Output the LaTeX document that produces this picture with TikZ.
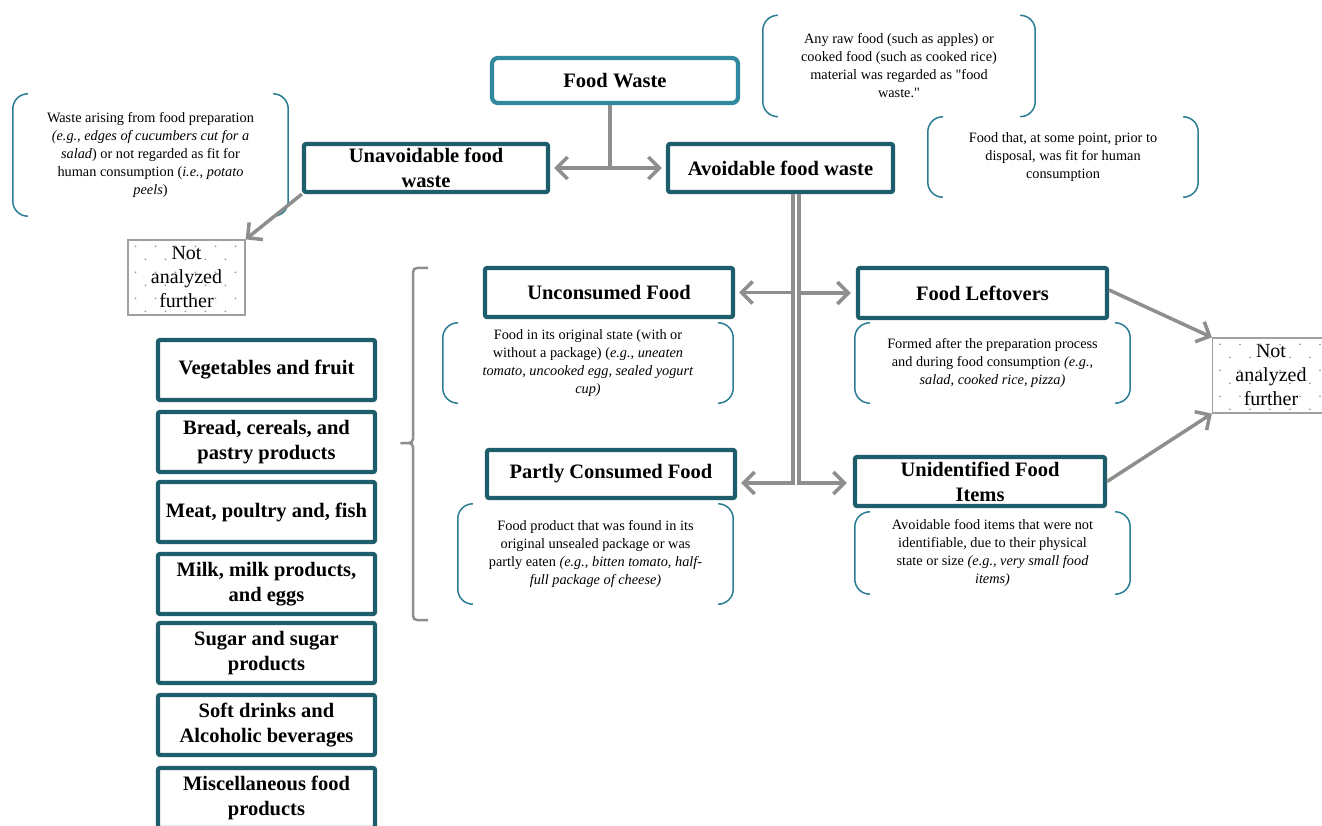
\documentclass[tikz,border=0pt]{standalone}
\usepackage{fontspec}
\setmainfont{Liberation Serif}[Ligatures=TeXOff]
\usetikzlibrary{arrows.meta}
\definecolor{darkteal}{HTML}{1E5D6C}
\definecolor{lightteal}{HTML}{3189A0}
\definecolor{brteal}{HTML}{2C7D94}
\definecolor{conngray}{HTML}{8E8E8E}
\definecolor{dotgray}{HTML}{A0A0A0}
\tikzset{
  box/.style={draw=darkteal, line width=4.2pt, rounded corners=2pt, align=center, inner sep=0pt,
    font=\fontsize{20.5}{25}\selectfont\bfseries},
  topbox/.style={box, draw=lightteal, rounded corners=6pt},
  catbox/.style={box, minimum width=217pt, minimum height=60pt},
  note/.style={align=center, inner sep=0pt, font=\fontsize{14.3}{18}\selectfont},
  notebr/.style={draw=brteal, line width=1.5pt, rounded corners=15pt},
  nabox/.style={draw=dotgray, line width=1.2pt, align=center, inner sep=0pt,
    minimum width=117pt, minimum height=75pt, font=\fontsize{20}{24}\selectfont},
  conn/.style={draw=conngray, line width=3.5pt},
  arr/.style={conn, -{Straight Barb[length=11pt,width=22pt]}},
  bracegray/.style={draw=conngray, line width=2.5pt, rounded corners=4pt}
}
\newcommand\notebrackets[1]{%
  \draw[notebr] ([xshift=15pt]#1.north west) -- (#1.north west) -- (#1.south west) -- ([xshift=15pt]#1.south west);
  \draw[notebr] ([xshift=-15pt]#1.north east) -- (#1.north east) -- (#1.south east) -- ([xshift=-15pt]#1.south east);}
\newcommand\nadots[1]{%
  \begin{scope}
    \clip (#1.north west) rectangle (#1.south east);
    \foreach \r [evaluate=\r as \off using {10*mod(\r,2)}] in {0,...,5}{
      \foreach \c in {0,...,6}{
        \fill[dotgray] ([shift={(8+20*\c+\off,7+13*\r)}]#1.north west) circle (1pt);
      }}
  \end{scope}}
\begin{document}
\begin{tikzpicture}[x=1pt,y=-1pt]
\useasboundingbox (0,0) rectangle (1322,826);
\fill[white] (0,0) rectangle (1322,826);
\clip (0,0) rectangle (1322,826);

% main boxes
\node[topbox, minimum width=246pt, minimum height=45pt] (fw) at (615,80.5) {Food Waste};
\node[box, minimum width=244pt, minimum height=48pt] (unav) at (426,168) {Unavoidable food\\waste};
\node[box, minimum width=225pt, minimum height=48pt] (avo) at (780.5,168) {Avoidable food waste};
\node[box, minimum width=248pt, minimum height=49pt] (unc) at (609,292.5) {Unconsumed Food};
\node[box, minimum width=248pt, minimum height=48pt] (part) at (611,474) {Partly Consumed Food};
\node[box, minimum width=249pt, minimum height=50pt] (lefto) at (982.5,293) {Food Leftovers};
\node[box, minimum width=250pt, minimum height=49pt] (unid) at (980,481.5) {Unidentified Food\\Items};

% notes
\node[note, minimum width=272pt, minimum height=101pt] (n1) at (899,66) {Any raw food (such as apples) or\\cooked food (such as cooked rice)\\material was regarded as "food\\waste."};
\notebrackets{n1}
\node[note, minimum width=270pt, minimum height=80pt] (n2) at (1063,157) {Food that, at some point, prior to\\disposal, was fit for human\\consumption};
\notebrackets{n2}
\node[note, minimum width=275pt, minimum height=122pt] (n3) at (150.5,155) {Waste arising from food preparation\\\textit{(e.g., edges of cucumbers cut for a}\\\textit{salad}) or not regarded as fit for\\human consumption (\textit{i.e., potato}\\\textit{peels})};
\notebrackets{n3}
\node[note, minimum width=290pt, minimum height=80pt] (n4) at (588,363) {Food in its original state (with or\\without a package) (\textit{e.g., uneaten}\\\textit{tomato, uncooked egg, sealed yogurt}\\\textit{cup)}};
\notebrackets{n4}
\node[note, minimum width=275pt, minimum height=100pt] (n5) at (595.5,554) {Food product that was found in its\\original unsealed package or was\\partly eaten \textit{(e.g., bitten tomato, half-}\\\textit{full package of cheese)}};
\notebrackets{n5}
\node[note, minimum width=275pt, minimum height=80pt] (n6) at (992.5,363) {Formed after the preparation process\\and during food consumption \textit{(e.g.,}\\\textit{salad, cooked rice, pizza)}};
\notebrackets{n6}
\node[note, minimum width=275pt, minimum height=82pt] (n7) at (992.5,553) {Avoidable food items that were not\\identifiable, due to their physical\\state or size \textit{(e.g., very small food}\\\textit{items)}};
\notebrackets{n7}

% not analyzed
\node[nabox] (na1) at (186.5,277.5) {Not\\analyzed\\further};
\nadots{na1}
\node[nabox] (na2) at (1271,375.5) {Not\\analyzed\\further};
\nadots{na2}

% categories
\node[catbox] (c1) at (266.5,370) {Vegetables and fruit};
\node[catbox] (c2) at (266.5,442) {Bread, cereals, and\\pastry products};
\node[catbox] (c3) at (266.5,512) {Meat, poultry and, fish};
\node[catbox] (c4) at (266.5,584) {Milk, milk products,\\and eggs};
\node[catbox] (c5) at (266.5,653) {Sugar and sugar\\products};
\node[catbox] (c6) at (266.5,725) {Soft drinks and\\Alcoholic beverages};
\node[catbox] (c7) at (266.5,798) {Miscellaneous food\\products};

% brace
\coordinate (bt) at (428,268);
\coordinate (bm) at (398,443);
\coordinate (bb) at (428,620);
\draw[bracegray] (bt) -- ([xshift=-15pt]bt) -- ([xshift=-15pt]bt |- bm) -- (bm) -- ([xshift=-15pt]bt |- bm) -- ([xshift=-15pt]bb) -- (bb);

% connectors
\coordinate (j1) at (610,168);
\draw[conn] (fw.south -| j1) -- (j1);
\draw[arr, shorten >=4pt] (j1) -- (unav.east);
\draw[arr, shorten >=4pt] (j1) -- (avo.west);

\coordinate (aL) at ([xshift=12.5pt]avo.south);
\coordinate (aR) at ([xshift=18.5pt]avo.south);
\coordinate (yb) at (0,483);
\draw[arr, shorten >=4pt] (aL) -- (aL |- yb) -- (part.east |- yb);
\draw[arr, shorten >=4pt] (aL |- unc.east) -- (unc.east);
\draw[arr, shorten >=6pt] (aR) -- (aR |- yb) -- (unid.west |- yb);
\draw[arr, shorten >=5pt] (aR |- lefto.west) -- (lefto.west);

\draw[arr] (unav.south west) -- (na1.north east);
\draw[arr] ([yshift=3pt]lefto.east) -- (na2.north west);
\draw[arr] (unid.east) -- (na2.south west);
\end{tikzpicture}
\end{document}
